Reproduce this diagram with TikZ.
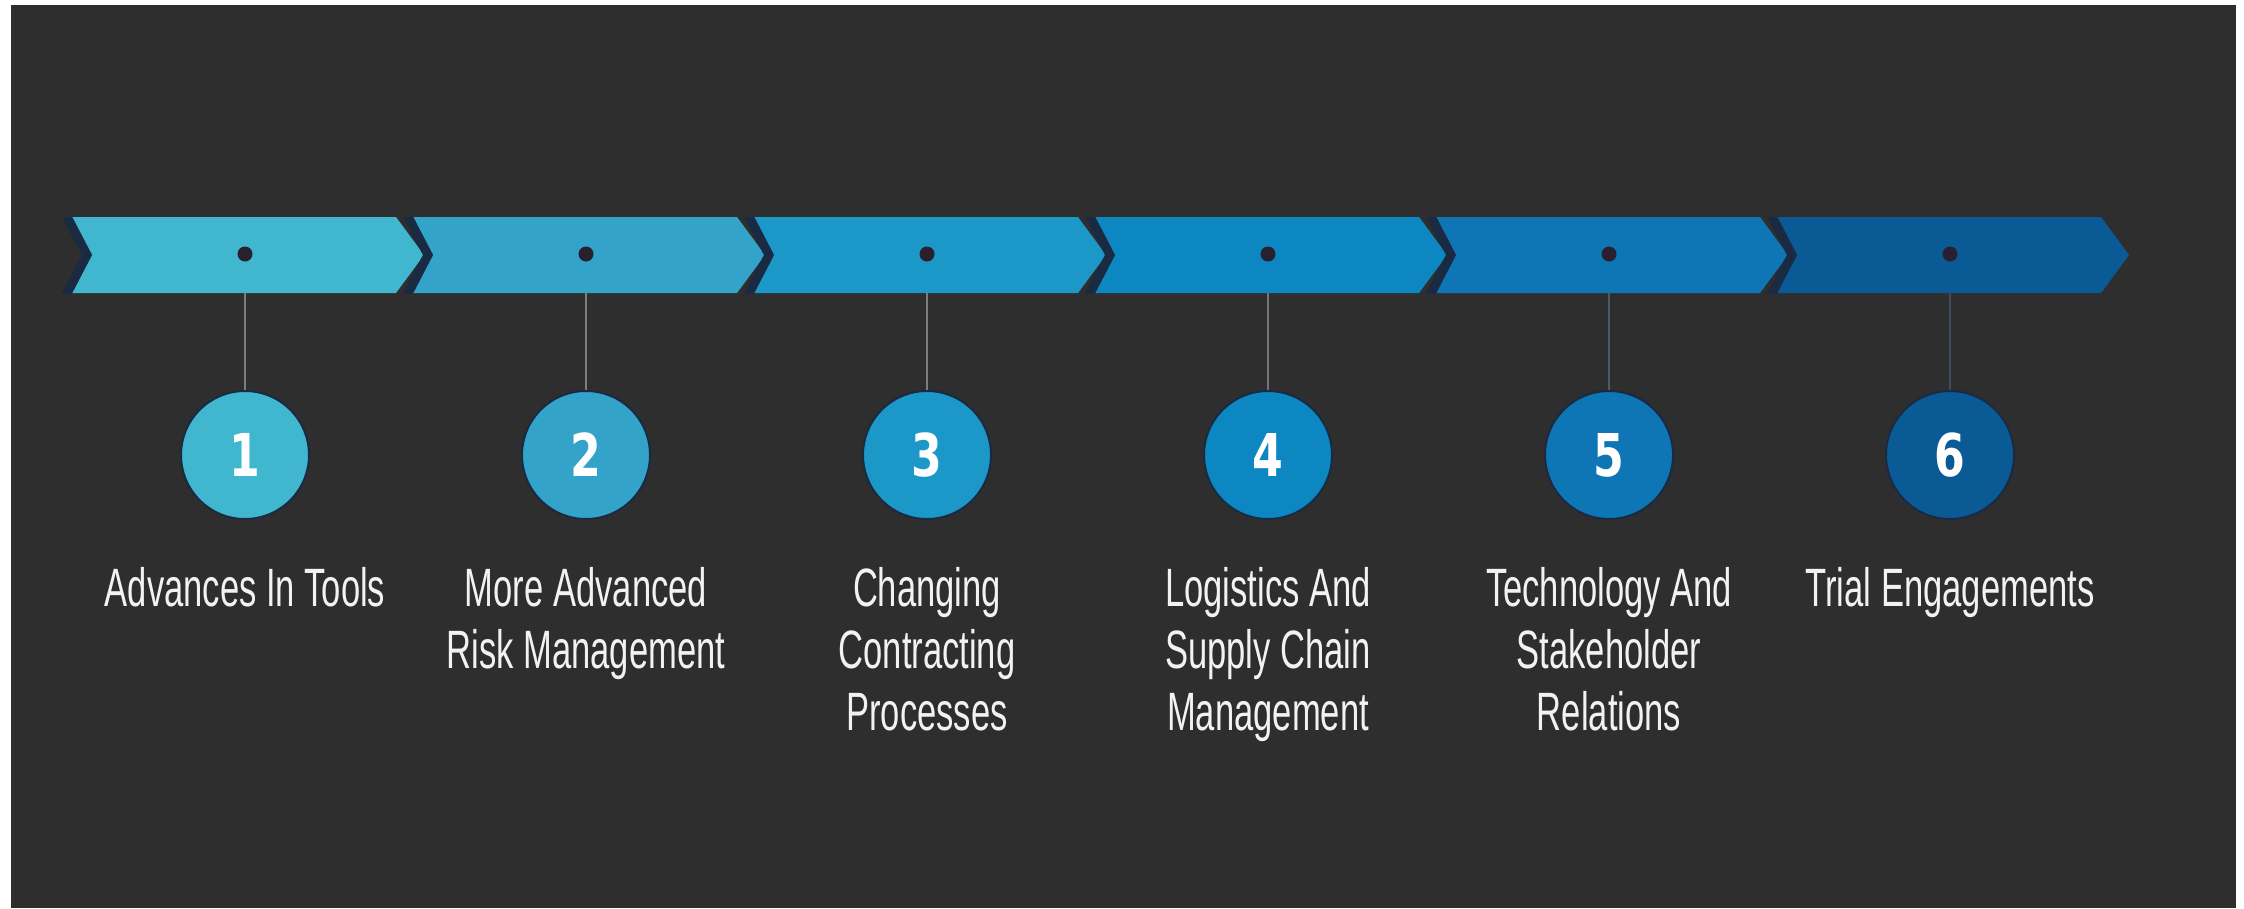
\documentclass[tikz,border=0pt]{standalone}
\usepackage{fontspec}
\newfontfamily\labfont[FakeStretch=0.64]{Liberation Sans}
\newfontfamily\numfont[FakeStretch=0.75]{DejaVu Sans}
\definecolor{bg}{HTML}{2E2E2E}
\definecolor{navy}{HTML}{1A2A42}
\definecolor{dotc}{HTML}{2A1F2E}
\definecolor{ca}{HTML}{41B7CF}
\definecolor{cb}{HTML}{34A3CA}
\definecolor{cc}{HTML}{1C98C8}
\definecolor{cd}{HTML}{0C87C2}
\definecolor{ce}{HTML}{0E76B4}
\definecolor{cf}{HTML}{0A5A96}
\definecolor{txt}{HTML}{F2F2F2}
\tikzset{
  notchline/.style={draw=navy, line width=9pt, line join=miter},
  dotmark/.style={circle, fill=dotc, inner sep=0pt, minimum size=15pt},
  numcirc/.style={circle, draw=navy, line width=2pt, inner sep=0pt, minimum size=128pt,
    text=white, font={\numfont\bfseries\fontsize{59}{60}\selectfont}},
  stem/.style={line width=2pt},
  lab/.style={anchor=north, inner sep=0pt, align=center, text=txt,
    font={\labfont\fontsize{54}{62}\selectfont}}
}
\begin{document}
\begin{tikzpicture}[x=1pt,y=-1pt]
\useasboundingbox (0,0) rectangle (2244,908);
\fill[white] (0,0) rectangle (2244,908);
\fill[bg] (11,5) rectangle (2236,908);
% chevrons
\foreach \i/\col in {1/ca,2/cb,3/cc,4/cd,5/ce,6/cf}{
  \pgfmathsetmacro{\L}{65+341*(\i-1)}
  \fill[\col] (\L,217) -- ({\L+331},217) -- ({\L+359},255) -- ({\L+331},293)
     -- (\L,293) -- ({\L+26},255) -- cycle;
}
\begin{scope}
  \clip (0,217) rectangle (2244,293);
  \foreach \i in {1,...,6}{
    \pgfmathsetmacro{\L}{65+341*(\i-1)}
    \draw[notchline] ({\L-4},205) -- ({\L+22},255) -- ({\L-4},305);
  }
\end{scope}
% dots, stems, circles
\foreach \i/\col/\stc in {1/ca/7D7D7D,2/cb/7D7D7D,3/cc/7D7D7D,4/cd/6E747A,5/ce/4E5A66,6/cf/3E4C5C}{
  \pgfmathsetmacro{\X}{245+341*(\i-1)}
  \node[dotmark] (d\i) at (\X,254) {};
  \coordinate (b\i) at (\X,293);
  \node[numcirc, fill=\col] (n\i) at (\X,455) {\i};
  \definecolor{stemc}{HTML}{\stc}
  \draw[stem, stemc] (b\i) -- (n\i.north);
}
% labels
\node[lab] (t1) at (245,567) {Advances In Tools};
\node[lab] (t2) at (586,567) {More Advanced\\Risk Management};
\node[lab] (t3) at (927,567) {Changing\\Contracting\\Processes};
\node[lab] (t4) at (1268,567) {Logistics And\\Supply Chain\\Management};
\node[lab] (t5) at (1609,567) {Technology And\\Stakeholder\\Relations};
\node[lab] (t6) at (1950,567) {Trial Engagements};
\end{tikzpicture}
\end{document}
